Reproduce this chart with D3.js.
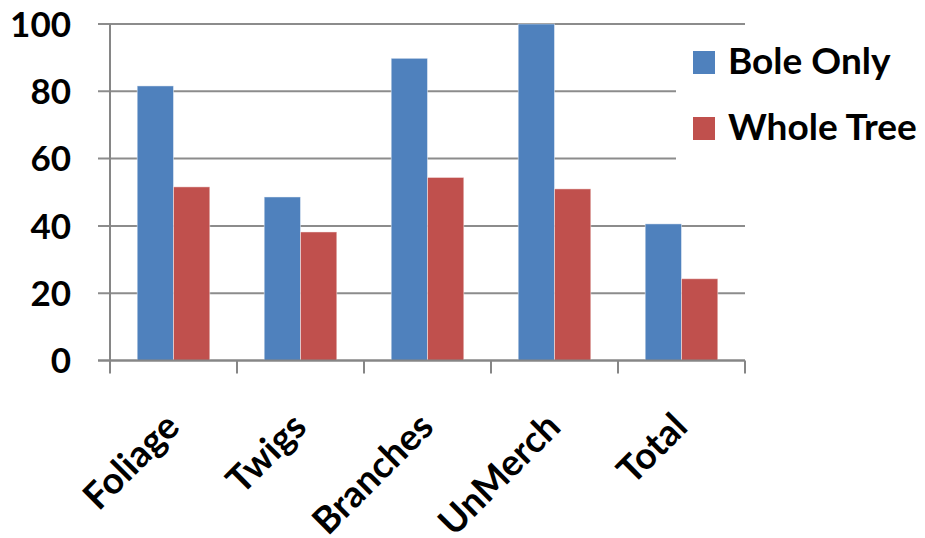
<!DOCTYPE html>
<html>
<head>
<meta charset="utf-8">
<script src="https://cdn.jsdelivr.net/npm/d3@7"></script>
<style>
  html, body { margin: 0; padding: 0; background: #fff; }
  svg text { font-family: Lato, "Open Sans", sans-serif; font-weight: bold; fill: #000; }
</style>
</head>
<body>
<svg id="chart" width="925" height="538"></svg>
<script>
// Biomass components and the two harvest scenarios
const categories = ["Foliage", "Twigs", "Branches", "UnMerch", "Total"];
const seriesNames = ["Bole Only", "Whole Tree"];
const boleOnly = [81.6, 48.6, 89.8, 100, 40.6];
const wholeTree = [51.6, 38.2, 54.4, 51.0, 24.3];
const yTicks = [0, 20, 40, 60, 80, 100];
const colors = ["#4F81BD", "#C0504D"];

const svg = d3.select("#chart");
const plot = { left: 110, right: 745, top: 24, bottom: 360.5 };

const x = d3.scaleBand().domain(categories).range([plot.left, plot.right]);
// 150% gap between groups: two bars of width w plus a gap of 1.5w fill a band
const barW = x.bandwidth() / 3.5;
const y = d3.scaleLinear().domain([0, 100]).range([plot.bottom, plot.top]);

// Horizontal gridlines
svg.append("g")
  .selectAll("line")
  .data(yTicks)
  .join("line")
  .attr("x1", plot.left - 12)
  .attr("x2", plot.right)
  .attr("y1", d => y(d))
  .attr("y2", d => y(d))
  .attr("stroke", "#8c8c8c")
  .attr("stroke-width", 2);

// Y tick labels
svg.append("g")
  .selectAll("text")
  .data(yTicks)
  .join("text")
  .attr("x", 71)
  .attr("y", d => y(d))
  .attr("dy", "0.36em")
  .attr("text-anchor", "end")
  .style("font-size", "35px")
  .text(d => d);

// Bars
const rows = categories.map((c, i) => ({ cat: c, vals: [boleOnly[i], wholeTree[i]] }));
const groups = svg.append("g")
  .selectAll("g")
  .data(rows)
  .join("g")
  .attr("transform", d => `translate(${x(d.cat) + x.bandwidth() / 2 - barW},0)`);

groups.selectAll("rect")
  .data(d => d.vals.map((v, k) => ({ v, k })))
  .join("rect")
  .attr("x", d => d.k * barW)
  .attr("width", barW)
  .attr("y", d => y(d.v))
  .attr("height", d => y(0) - y(d.v))
  .attr("fill", d => colors[d.k])
  .attr("stroke", "#ffffff")
  .attr("stroke-opacity", 0.45)
  .attr("stroke-width", 1);

// Axes lines
svg.append("line")
  .attr("x1", plot.left).attr("x2", plot.left)
  .attr("y1", plot.top).attr("y2", plot.bottom + 13)
  .attr("stroke", "#868686").attr("stroke-width", 2);
svg.append("line")
  .attr("x1", plot.left - 12).attr("x2", plot.right)
  .attr("y1", plot.bottom).attr("y2", plot.bottom)
  .attr("stroke", "#868686").attr("stroke-width", 2);

// Category tick marks between groups
const bounds = categories.map(c => x(c)).concat([plot.right]);
svg.append("g")
  .selectAll("line")
  .data(bounds.slice(1))
  .join("line")
  .attr("x1", d => d).attr("x2", d => d)
  .attr("y1", plot.bottom).attr("y2", plot.bottom + 13)
  .attr("stroke", "#868686").attr("stroke-width", 2);

// Rotated category labels
svg.append("g")
  .selectAll("text")
  .data(categories)
  .join("text")
  .attr("text-anchor", "end")
  .attr("transform", d => `translate(${x(d) + x.bandwidth() / 2 + 8},429) rotate(-45)`)
  .style("font-size", "37px")
  .text(d => d);

// Legend
const legend = svg.append("g");
legend.append("rect")
  .attr("x", 676).attr("y", 34).attr("width", 249).attr("height", 160)
  .attr("fill", "#fff");
const items = legend.selectAll("g")
  .data(seriesNames)
  .join("g")
  .attr("transform", (d, i) => `translate(693,${51 + i * 66})`);
items.append("rect")
  .attr("width", 22).attr("height", 23)
  .attr("fill", (d, i) => colors[i]);
items.append("text")
  .attr("x", 35)
  .attr("y", 23)
  .style("font-size", "37px")
  .text(d => d);
</script>
</body>
</html>
